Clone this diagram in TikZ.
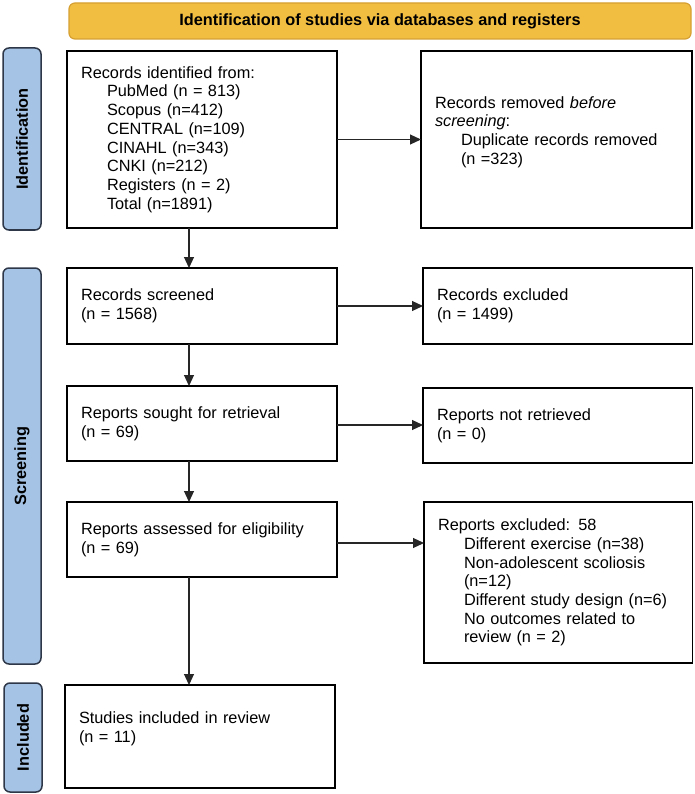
\documentclass[tikz,border=0pt]{standalone}
\usepackage{fontspec}
\setmainfont{Liberation Sans}
\usetikzlibrary{arrows.meta}
\definecolor{hdrfill}{RGB}{242,190,66}
\definecolor{hdrline}{RGB}{214,160,50}
\definecolor{bandfill}{RGB}{165,195,229}
\definecolor{bandline}{RGB}{45,55,72}
\newcommand{\myind}{\hspace*{26pt}}
\newcommand{\mainfs}{\fontsize{16.3}{18.7}\selectfont}
\begin{document}
\begin{tikzpicture}[x=1pt,y=-1pt,
  every node/.style={font=\mainfs, outer sep=0pt},
  box/.style={draw=black, line width=1.5pt, rectangle, anchor=north west, align=left, inner xsep=14pt, inner ysep=0pt},
  hdr/.style={draw=hdrline, fill=hdrfill, line width=1.2pt, rounded corners=6pt, font=\mainfs\bfseries},
  band/.style={draw=bandline, fill=bandfill, line width=1.5pt, rounded corners=6pt, rotate=90, font=\mainfs\bfseries, inner sep=0pt},
  arr/.style={draw=black!85, line width=1.1pt, -{Triangle[length=11pt,width=10pt]}}
]
\useasboundingbox (0,0) rectangle (694,794);

% header and phase bands
\node[hdr, minimum width=622pt, minimum height=36pt] (hdr) at (380,21) {Identification of studies via databases and registers};
\node[band, minimum width=182pt, minimum height=38pt] (bid) at (22,139) {Identification};
\node[band, minimum width=396pt, minimum height=38pt] (bscr) at (22,466) {Screening};
\node[band, minimum width=109pt, minimum height=38pt] (binc) at (23,737.5) {Included};

% left column
\node[box, minimum width=270pt, minimum height=177pt, text width=242pt] (ident) at (67,51)
  {Records identified from:\\ \myind PubMed (n = 813)\\ \myind Scopus (n=412)\\ \myind CENTRAL (n=109)\\ \myind CINAHL (n=343)\\ \myind CNKI (n=212)\\ \myind Registers (n = 2)\\ \myind Total (n=1891)};
\node[box, minimum width=270pt, minimum height=76pt, text width=242pt] (scr) at (67,268)
  {Records screened\\ (n = 1568)};
\node[box, minimum width=270pt, minimum height=75pt, text width=242pt] (sought) at (67,386)
  {Reports sought for retrieval\\ (n = 69)};
\node[box, minimum width=270pt, minimum height=75pt, text width=242pt] (elig) at (67,502)
  {Reports assessed for eligibility\\ (n = 69)};
\node[box, minimum width=270pt, minimum height=103pt, text width=242pt] (incl) at (65,685)
  {Studies included in review\\ (n = 11)\\ \mbox{}};

% right column
\node[box, minimum width=271pt, minimum height=177pt, text width=243pt] (rem) at (421,51)
  {Records removed \textit{before}\\ \textit{screening}:\\ \myind Duplicate records removed\\ \myind (n =323)\\ \mbox{}};
\node[box, minimum width=269.5pt, minimum height=76pt, text width=241.5pt] (exc) at (423,268)
  {Records excluded\\ (n = 1499)};
\node[box, minimum width=269.5pt, minimum height=75pt, text width=241.5pt] (notret) at (423,388)
  {Reports not retrieved\\ (n = 0)};
\node[box, minimum width=268.5pt, minimum height=161pt, text width=240.5pt] (rexc) at (424,502)
  {Reports excluded: 58\\ \myind Different exercise (n=38)\\ \myind Non-adolescent scoliosis\\ \myind (n=12)\\ \myind Different study design (n=6)\\ \myind No outcomes related to\\ \myind review (n = 2)};

% connectors
\draw[arr] (ident.east) -- (rem.west);
\draw[arr] (scr.east) -- (scr.east -| exc.west);
\draw[arr] ([yshift=-1.5pt]sought.east) -- ([yshift=-1.5pt]sought.east -| notret.west);
\draw[arr] ([yshift=-3.5pt]elig.east) -- ([yshift=-3.5pt]elig.east -| rexc.west);
\draw[arr] ([xshift=-13pt]ident.south) -- ([xshift=-13pt]ident.south |- scr.north);
\draw[arr] ([xshift=-13pt]scr.south) -- ([xshift=-13pt]scr.south |- sought.north);
\draw[arr] ([xshift=-13pt]sought.south) -- ([xshift=-13pt]sought.south |- elig.north);
\draw[arr] ([xshift=-13pt]elig.south) -- ([xshift=-13pt]elig.south |- incl.north);
\end{tikzpicture}
\end{document}
